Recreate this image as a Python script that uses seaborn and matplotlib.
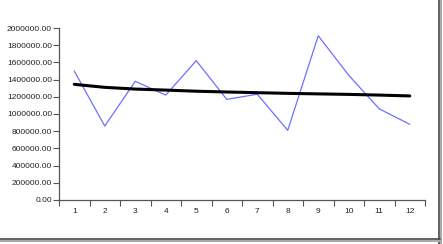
import matplotlib
matplotlib.use("Agg")
import matplotlib.pyplot as plt
import seaborn as sns
import pandas as pd
import numpy as np
from matplotlib.patches import Rectangle
from matplotlib.lines import Line2D

months = [1, 2, 3, 4, 5, 6, 7, 8, 9, 10, 11, 12]
actual = [1500000, 860000, 1380000, 1220000, 1620000, 1170000, 1230000, 810000,
          1910000, 1450000, 1060000, 880000]
trend = [1345000, 1310000, 1290000, 1278000, 1265000, 1256000, 1248000, 1240000,
         1234000, 1228000, 1220000, 1210000]
yticks = [0, 200000, 400000, 600000, 800000, 1000000, 1200000, 1400000,
          1600000, 1800000, 2000000]

df = pd.DataFrame({"month": months, "actual": actual, "trend": trend})

sns.set_style("white")
plt.rcParams["font.family"] = ["Liberation Sans", "DejaVu Sans"]

fig = plt.figure(figsize=(4.43, 2.44), dpi=100)
ax = fig.add_axes([59 / 443, 44 / 244, 366 / 443, 172 / 244])

sns.lineplot(data=df, x="month", y="actual", ax=ax, color="#6f6fff", linewidth=0.9)
sns.lineplot(data=df, x="month", y="trend", ax=ax, color="black", linewidth=2.2)

ax.set_xlim(0.5, 12.5)
ax.set_ylim(0, 2000000)
ax.set_xlabel("")
ax.set_ylabel("")

ax.set_yticks(yticks)
ax.set_yticklabels([f"{v:.2f}" for v in yticks], fontsize=6, color="#222222")
ax.set_xticks([m - 0.5 for m in months] + [12.5])
ax.set_xticklabels([])
ax.set_xticks(months, minor=True)
ax.set_xticklabels([str(m) for m in months], minor=True, fontsize=6, color="#222222")

ax.tick_params(axis="y", which="major", direction="out", length=4, width=0.8,
               color="#555555", pad=1, left=True)
ax.tick_params(axis="x", which="major", direction="out", length=4, width=0.8,
               color="#555555", bottom=True)
ax.tick_params(axis="x", which="minor", length=0, pad=6, bottom=True)

for side in ["top", "right"]:
    ax.spines[side].set_visible(False)
for side in ["left", "bottom"]:
    ax.spines[side].set_color("#555555")
    ax.spines[side].set_linewidth(0.9)

# frame shadow on right and bottom
fig.add_artist(Line2D([439 / 443, 439 / 443], [0.0, 1.0], transform=fig.transFigure,
                      color="#444444", linewidth=1.2))
fig.add_artist(Line2D([441 / 443, 441 / 443], [0.0, 1.0], transform=fig.transFigure,
                      color="#aaaaaa", linewidth=1.5))
fig.add_artist(Line2D([0, 440 / 443], [5 / 244, 5 / 244], transform=fig.transFigure,
                      color="#444444", linewidth=1.2))
fig.add_artist(Line2D([0, 440 / 443], [3 / 244, 3 / 244], transform=fig.transFigure,
                      color="#aaaaaa", linewidth=1.5))

fig.savefig("out.png", dpi=100)
